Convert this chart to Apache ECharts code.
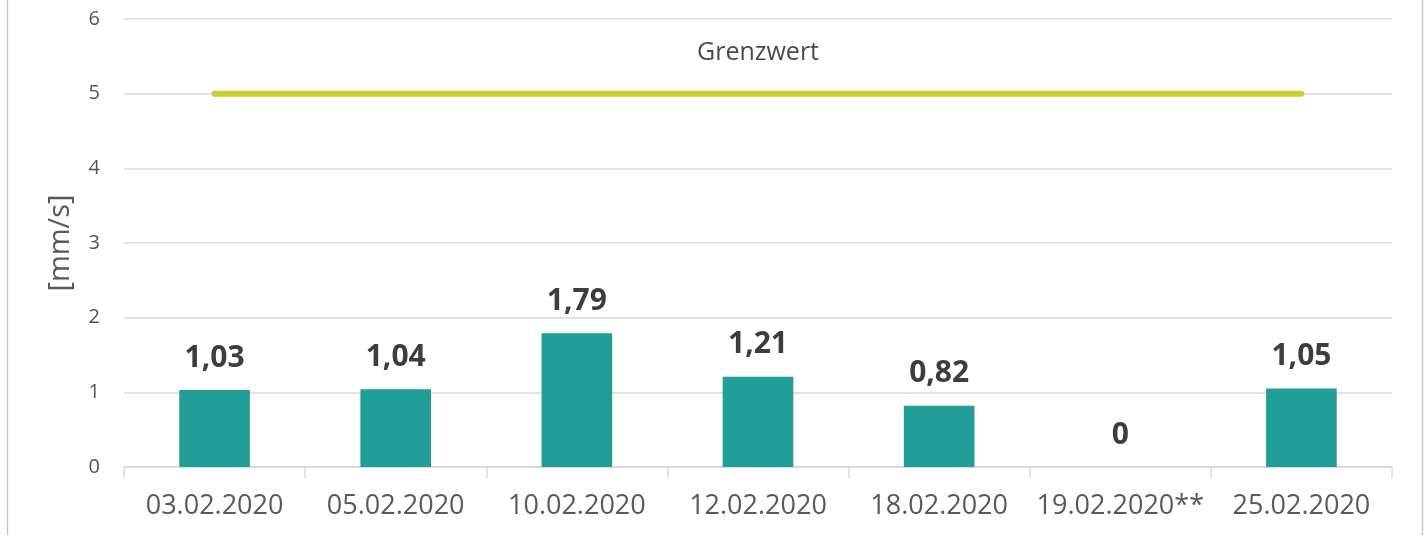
<!DOCTYPE html>
<html><head><meta charset="utf-8">
<script src="https://cdn.jsdelivr.net/npm/echarts@6/dist/echarts.min.js"></script>
<style>html,body{margin:0;padding:0;background:#fff}#c{width:1426px;height:539px}</style>
</head><body><div id="c"></div>
<script>
const categories = ['03.02.2020','05.02.2020','10.02.2020','12.02.2020','18.02.2020','19.02.2020**','25.02.2020'];
const values = [1.03, 1.04, 1.79, 1.21, 0.82, 0, 1.05];
const limitValues = [5, 5, 5, 5, 5, 5, 5];
const limitName = 'Grenzwert';
const limitLabelIndex = 3;
const yTitle = '[mm/s]';

const chart = echarts.init(document.getElementById('c'), null, {renderer:'canvas'});
chart.setOption({
  animation:false,
  backgroundColor:'#ffffff',
  grid:{left:124,right:34,top:19,bottom:72,containLabel:false},
  graphic:[
    {type:'line',shape:{x1:7.5,y1:0,x2:7.5,y2:535},style:{stroke:'#c8c8c8',lineWidth:1.5}},
    {type:'line',shape:{x1:1422.5,y1:0,x2:1422.5,y2:535},style:{stroke:'#c8c8c8',lineWidth:1.5}}
  ],
  xAxis:{type:'category',data:categories,
    axisLine:{lineStyle:{color:'#d9d9d9',width:1.5}},
    axisTick:{show:true,length:11,lineStyle:{color:'#d9d9d9',width:1.5}},
    axisLabel:{color:'#595959',fontSize:27,fontFamily:'Open Sans',margin:26,interval:0}},
  yAxis:{type:'value',min:0,max:6,interval:1,
    name:yTitle,nameLocation:'middle',nameGap:49,nameRotate:90,
    nameTextStyle:{color:'#595959',fontSize:29,fontFamily:'Open Sans'},
    axisLine:{show:false},axisTick:{show:false},
    axisLabel:{color:'#555555',fontSize:20,fontFamily:'Open Sans',margin:24},
    splitLine:{lineStyle:{color:'#d9d9d9',width:1.5}}},
  series:[
    {type:'bar',data:values,barWidth:'39%',
      itemStyle:{color:'#229e99'},
      label:{show:true,position:'top',distance:17,color:'#3d3d3d',fontSize:30,fontWeight:'bold',fontFamily:'Open Sans',
        formatter:p=>String(p.value).replace('.',',')}},
    {type:'line',name:limitName,data:limitValues,symbol:'none',
      lineStyle:{color:'#c8d12e',width:6,cap:'round'},z:3},
    {type:'scatter',data:[[limitLabelIndex,limitValues[limitLabelIndex]]],symbolSize:2,
      itemStyle:{color:'rgba(0,0,0,0)'},silent:true,z:4,
      labelLayout:{hideOverlap:false},
      label:{show:true,position:'top',distance:27,offset:[5,0],formatter:limitName,color:'#1a1a1a',fontSize:25,fontFamily:'Open Sans'}}
  ]
});
</script></body></html>
